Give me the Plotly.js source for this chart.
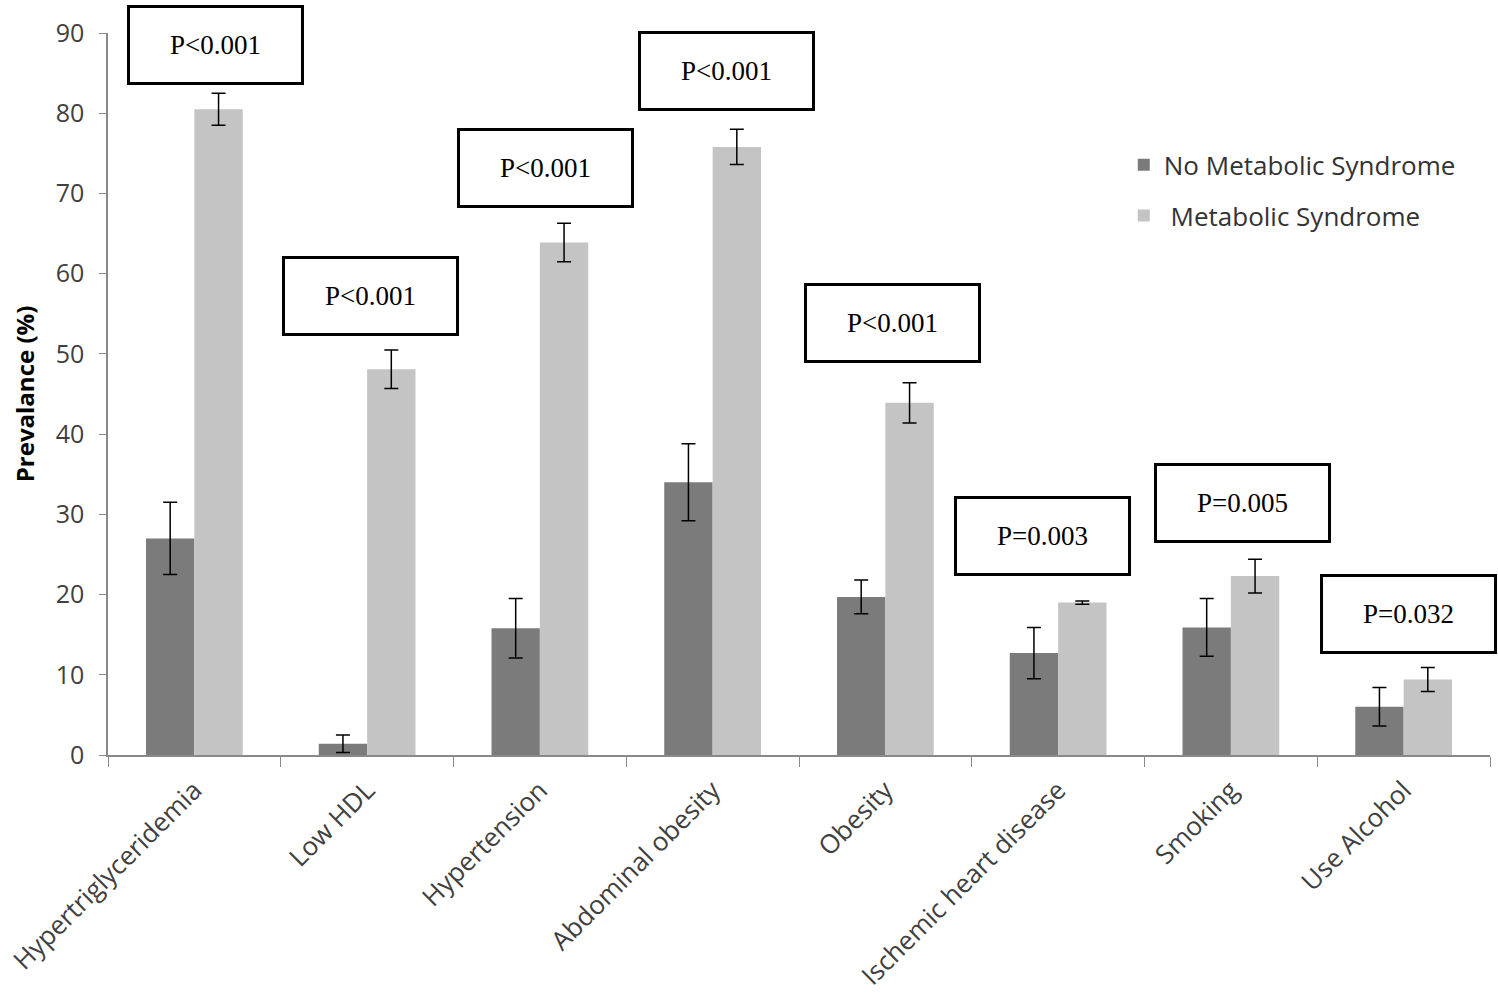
<!DOCTYPE html>
<html>
<head>
<meta charset="utf-8">
<script src="https://cdn.plot.ly/plotly-3.0.1.min.js"></script>
<style>
	html, body { margin: 0; padding: 0; background: #fff; }
	#plot { width: 1498px; height: 999px; }
</style>
</head>
<body>
<div id="plot"></div>
<script>
	// 数据
	const categories = ["Hypertriglyceridemia", "Low HDL", "Hypertension", "Abdominal obesity",
		"Obesity", "Ischemic heart disease", "Smoking", "Use Alcohol"];
	const noMetS = [27.0, 1.4, 15.8, 34.0, 19.7, 12.7, 15.9, 6.0];
	const noMetSErr = [4.5, 1.1, 3.7, 4.8, 2.1, 3.2, 3.6, 2.4];
	const metS = [80.5, 48.1, 63.9, 75.8, 43.9, 19.0, 22.3, 9.4];
	const metSErr = [2.0, 2.4, 2.4, 2.2, 2.5, 0.2, 2.1, 1.5];
	const pLabels = ["P<0.001", "P<0.001", "P<0.001", "P<0.001", "P<0.001", "P=0.003", "P=0.005", "P=0.032"];

	// 注释框位置 (相对类别中心的偏移, y值)
	const boxDx = [0.12, 0.02, 0.03, 0.08, 0.04, -0.09, 0.07, 0.03];
	const boxY = [88.5, 57.2, 73.2, 85.3, 53.9, 27.3, 31.4, 17.6];

	const traces = [
		{
			type: "bar",
			x: categories,
			y: noMetS,
			name: "No Metabolic Syndrome",
			legendgroup: "a",
			marker: { color: "#7b7b7b" },
			error_y: { type: "data", array: noMetSErr, visible: true, color: "#000", thickness: 1.5, width: 7 }
		},
		{
			type: "bar",
			x: categories,
			y: metS,
			name: " Metabolic Syndrome",
			legendgroup: "b",
			marker: { color: "#c4c4c4" },
			error_y: { type: "data", array: metSErr, visible: true, color: "#000", thickness: 1.5, width: 7 }
		}
	];

	const annotations = pLabels.map((t, i) => ({
		x: i + boxDx[i],
		y: boxY[i],
		xref: "x",
		yref: "y",
		text: t,
		showarrow: false,
		font: { family: "Liberation Serif", size: 27, color: "#000" },
		bgcolor: "#fff",
		bordercolor: "#000",
		borderwidth: 3,
		width: 169,
		height: 72,
		align: "center",
		valign: "middle"
	}));

	const layout = {
		width: 1498,
		height: 999,
		margin: { l: 108, r: 8, t: 33, b: 244 },
		paper_bgcolor: "#fff",
		plot_bgcolor: "#fff",
		barmode: "group",
		bargap: 0.44,
		bargroupgap: 0,
		font: { family: "Open Sans", color: "#404040" },
		xaxis: {
			type: "category",
			range: [-0.5, 7.5],
			tickangle: -45,
			tickson: "boundaries",
			ticks: "outside",
			ticklen: 10,
			tickcolor: "#898989",
			showline: true,
			linecolor: "#898989",
			linewidth: 1.5,
			showgrid: false,
			zeroline: false,
			ticklabelstandoff: 8,
			tickfont: { family: "Open Sans", size: 26, color: "#404040" }
		},
		yaxis: {
			range: [0, 90],
			dtick: 10,
			ticks: "outside",
			ticklen: 7,
			tickcolor: "#898989",
			showline: true,
			linecolor: "#898989",
			linewidth: 1.5,
			showgrid: false,
			zeroline: false,
			ticklabelstandoff: 10,
			tickfont: { family: "Open Sans", size: 25, color: "#404040" },
			title: { text: "<b>Prevalance (%)</b>", font: { family: "Open Sans", size: 24, color: "#000" }, standoff: 14 }
		},
		legend: {
			x: 0.735,
			y: 0.85,
			xanchor: "left",
			yanchor: "top",
			traceorder: "grouped",
			tracegroupgap: 14,
			font: { family: "Open Sans", size: 26, color: "#333" },
			bgcolor: "rgba(0,0,0,0)"
		},
		annotations: annotations
	};

	Plotly.newPlot("plot", traces, layout, { displayModeBar: false });
</script>
</body>
</html>
